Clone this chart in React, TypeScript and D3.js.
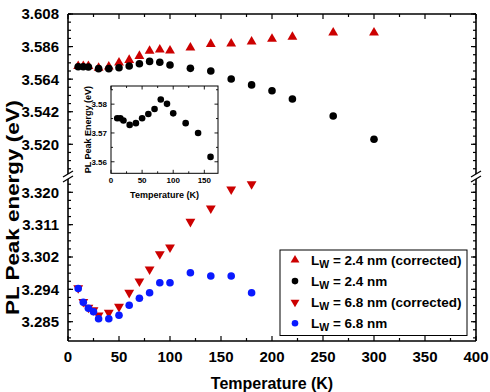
import React from "react";
import * as d3 from "d3";

// ---------- data ----------
const tempTop = [10, 15, 20, 30, 40, 50, 60, 70, 80, 90, 100, 120, 140, 160, 180, 200, 220, 260, 300];
const lw24Corrected = [3.5727, 3.5727, 3.5727, 3.5716, 3.5724, 3.5751, 3.5769, 3.5796, 3.583, 3.5839, 3.5832, 3.5852, 3.5877, 3.5879, 3.5893, 3.5911, 3.5925, 3.5954, 3.5954];
const lw24 = [3.5724, 3.5724, 3.5722, 3.5711, 3.5711, 3.5717, 3.5729, 3.5744, 3.576, 3.5754, 3.5736, 3.5713, 3.5695, 3.5641, 3.5601, 3.5562, 3.5506, 3.5391, 3.5234];

const tempBottom = [10, 15, 20, 25, 30, 40, 50, 60, 70, 80, 90, 100, 120, 140, 160, 180];
const lw68 = [3.294, 3.29025, 3.28862, 3.28771, 3.28581, 3.28581, 3.28673, 3.28944, 3.29133, 3.29284, 3.29555, 3.29555, 3.29825, 3.29736, 3.29736, 3.29284];
const lw68Corrected = [3.2941, 3.2904, 3.2888, 3.28816, 3.28673, 3.28743, 3.28906, 3.29284, 3.29593, 3.29917, 3.30331, 3.30512, 3.31205, 3.31567, 3.32081, 3.32225];

const insetTemp = [10, 15, 20, 30, 40, 50, 60, 70, 80, 90, 100, 120, 140, 160];
const insetEnergy = [3.5751, 3.5751, 3.5743, 3.5728, 3.5734, 3.5751, 3.5766, 3.5783, 3.5816, 3.5801, 3.5768, 3.5734, 3.57, 3.5617];

const xTicks = [0, 50, 100, 150, 200, 250, 300, 350, 400];
const topTicks = [3.52, 3.542, 3.564, 3.586, 3.608];
const topTickLabels = ["3.520", "3.542", "3.564", "3.586", "3.608"];
const bottomTicks = [3.285, 3.29375, 3.3025, 3.31125, 3.32];
const bottomTickLabels = ["3.285", "3.294", "3.302", "3.311", "3.320"];
const insetXTicks = [0, 50, 100, 150];
const insetYTicks = [3.56, 3.57, 3.58];
const insetYTickLabels = ["3.56", "3.57", "3.58"];

const legendItems = [
  { sub: "W", rest: " = 2.4 nm (corrected)", kind: "up", color: "#cc0000" },
  { sub: "W", rest: " = 2.4 nm", kind: "circle", color: "#000000" },
  { sub: "W", rest: " = 6.8 nm (corrected)", kind: "down", color: "#cc0000" },
  { sub: "W", rest: " = 6.8 nm", kind: "circle", color: "#0a1aff" },
];

// ---------- layout ----------
const W = 490, H = 392;
const L = 68, R = 476, T = 14, B = 341;
const breakY1 = 174, breakY2 = 179;
const font = "'Liberation Sans', Arial, sans-serif";

const RED = "#cc0000";
const BLUE = "#0a1aff";

export default function App() {
  const x = d3.scaleLinear().domain([0, 400]).range([L, R]);
  const yTop = d3.scaleLinear().domain([3.52, 3.608]).range([144.3, T]);
  const yBot = d3.scaleLinear().domain([3.285, 3.32]).range([321.7, 192.3]);

  const ix = d3.scaleLinear().domain([0, 172]).range([111, 218]);
  const iy = d3.scaleLinear().domain([3.556, 3.5863]).range([173.3, 86]);

  const triUp = d3.symbol().type(d3.symbolTriangle).size(42)()!;
  const triLeg = d3.symbol().type(d3.symbolTriangle).size(34)()!;

  const topMinor: number[] = [];
  for (let k = -4; k <= 16; k++) {
    const v = 3.52 + k * 0.0055;
    const py = yTop(v);
    if (py >= T && py <= breakY1 - 2) topMinor.push(py);
  }
  const botMinor: number[] = [];
  for (let k = -3; k <= 20; k++) {
    const v = 3.285 + k * 0.0021875;
    const py = yBot(v);
    if (py >= breakY2 + 2 && py <= B) botMinor.push(py);
  }
  const xMinor: number[] = [];
  for (let v = 0; v <= 400; v += 25) xMinor.push(x(v));
  const insetXMinor: number[] = [];
  for (let v = 0; v <= 172; v += 25) insetXMinor.push(ix(v));
  const insetYMinor: number[] = [];
  for (let v = 3.56; v <= 3.586; v += 0.005) insetYMinor.push(iy(v));

  const majorTopY = topTicks.map((v) => yTop(v));
  const majorBotY = bottomTicks.map((v) => yBot(v));

  const breakMark = (cx: number, cy: number, key: string) => (
    <line key={key} x1={cx - 5} y1={cy + 3} x2={cx + 5} y2={cy - 3} stroke="#000" strokeWidth={1.3} />
  );

  return (
    <svg width={W} height={H} style={{ display: "block", position: "absolute", left: 0, top: 0, background: "#fff" }} fontFamily={font}>
      <rect x={0} y={0} width={W} height={H} fill="#fff" />

      {tempTop.map((t, i) => (
        <path key={"ru" + i} d={triUp} transform={`translate(${x(t)},${yTop(lw24Corrected[i])})`} fill={RED} />
      ))}
      {tempTop.map((t, i) => (
        <circle key={"bk" + i} cx={x(t)} cy={yTop(lw24[i])} r={3.8} fill="#000" />
      ))}

      {tempBottom.map((t, i) => (
        <path key={"rd" + i} d={triUp} transform={`translate(${x(t)},${yBot(lw68Corrected[i])}) rotate(180)`} fill={RED} />
      ))}
      {tempBottom.map((t, i) => (
        <circle key={"bl" + i} cx={x(t)} cy={yBot(lw68[i])} r={3.8} fill={BLUE} />
      ))}

      <g stroke="#000" strokeWidth={1.6} fill="none">
        <line x1={L} y1={T} x2={R} y2={T} />
        <line x1={L} y1={B} x2={R} y2={B} />
        <line x1={L} y1={T} x2={L} y2={breakY1} />
        <line x1={L} y1={breakY2} x2={L} y2={B} />
        <line x1={R} y1={T} x2={R} y2={breakY1} />
        <line x1={R} y1={breakY2} x2={R} y2={B} />
      </g>
      {breakMark(L, breakY1, "bl1")}
      {breakMark(L, breakY2, "bl2")}
      {breakMark(R, breakY1, "br1")}
      {breakMark(R, breakY2, "br2")}

      <g stroke="#000" strokeWidth={1.2}>
        {xMinor.map((px, i) => {
          const len = i % 2 === 0 ? 5 : 3;
          return (
            <g key={"xt" + i}>
              <line x1={px} y1={B} x2={px} y2={B - len} />
              <line x1={px} y1={T} x2={px} y2={T + len} />
            </g>
          );
        })}
        {[...topMinor, ...botMinor].map((py, i) => (
          <g key={"ym" + i}>
            <line x1={L} y1={py} x2={L + 3} y2={py} />
            <line x1={R} y1={py} x2={R - 3} y2={py} />
          </g>
        ))}
        {[...majorTopY, ...majorBotY].map((py, i) => (
          <g key={"yM" + i}>
            <line x1={L} y1={py} x2={L + 5} y2={py} />
            <line x1={R} y1={py} x2={R - 5} y2={py} />
          </g>
        ))}
      </g>

      <g fontSize={15} fontWeight="bold" fill="#000">
        {xTicks.map((v) => (
          <text key={"xl" + v} x={x(v)} y={362} textAnchor="middle">{v}</text>
        ))}
        {topTicks.map((v, i) => (
          <text key={"tl" + i} x={59} y={yTop(v)} dy="0.36em" textAnchor="end">{topTickLabels[i]}</text>
        ))}
        {bottomTicks.map((v, i) => (
          <text key={"bl" + i} x={59} y={yBot(v)} dy="0.36em" textAnchor="end">{bottomTickLabels[i]}</text>
        ))}
      </g>

      <text x={(L + R) / 2} y={389} textAnchor="middle" fontSize={16} fontWeight="bold">Temperature (K)</text>
      <text transform={`translate(19,${(T + B) / 2 + 30}) rotate(-90)`} textAnchor="middle" fontSize={18} fontWeight="bold"
        textLength={215} lengthAdjust="spacingAndGlyphs">PL Peak energy (eV)</text>

      {/* inset */}
      <g>
        <rect x={ix(0)} y={iy(3.5863)} width={ix(172) - ix(0)} height={iy(3.556) - iy(3.5863)} fill="#fff" stroke="#000" strokeWidth={1} />
        <g stroke="#000" strokeWidth={0.9}>
          {insetXMinor.map((px, i) => {
            const len = i % 2 === 0 ? 3.5 : 2;
            return (
              <g key={"ixt" + i}>
                <line x1={px} y1={iy(3.556)} x2={px} y2={iy(3.556) - len} />
                <line x1={px} y1={iy(3.5863)} x2={px} y2={iy(3.5863) + len} />
              </g>
            );
          })}
          {insetYMinor.map((py, i) => {
            const len = i % 2 === 0 ? 3.5 : 2;
            return (
              <g key={"iyt" + i}>
                <line x1={ix(0)} y1={py} x2={ix(0) + len} y2={py} />
                <line x1={ix(172)} y1={py} x2={ix(172) - len} y2={py} />
              </g>
            );
          })}
        </g>
        {insetTemp.map((t, i) => (
          <circle key={"in" + i} cx={ix(t)} cy={iy(insetEnergy[i])} r={3.3} fill="#000" />
        ))}
        <g fontSize={8} fontWeight="bold" fill="#000">
          {insetXTicks.map((v) => (
            <text key={"ixl" + v} x={ix(v)} y={182.5} textAnchor="middle">{v}</text>
          ))}
          {insetYTicks.map((v, i) => (
            <text key={"iyl" + i} x={107} y={iy(v)} dy="0.36em" textAnchor="end">{insetYTickLabels[i]}</text>
          ))}
        </g>
        <text x={(ix(0) + ix(172)) / 2} y={198} textAnchor="middle" fontSize={9} fontWeight="bold">Temperature (K)</text>
        <text transform={`translate(91,${(iy(3.556) + iy(3.5863)) / 2}) rotate(-90)`} textAnchor="middle" fontSize={9} fontWeight="bold">PL Peak Energy (eV)</text>
      </g>

      {/* legend */}
      <g>
        <rect x={280} y={250} width={187} height={85.5} fill="#fff" stroke="#000" strokeWidth={1} />
        {legendItems.map((it, i) => {
          const cy = 260 + i * 21.1;
          return (
            <g key={"lg" + i}>
              {it.kind === "circle" ? (
                <circle cx={295} cy={cy} r={3.3} fill={it.color} />
              ) : (
                <path d={triLeg} transform={`translate(295,${cy})${it.kind === "down" ? " rotate(180)" : ""}`} fill={it.color} />
              )}
              <text x={311} y={cy + 4.5} fontSize={13.5} fontWeight="bold">
                L<tspan fontSize={10.5} dy={3}>{it.sub}</tspan><tspan dy={-3}>{it.rest}</tspan>
              </text>
            </g>
          );
        })}
      </g>
    </svg>
  );
}
